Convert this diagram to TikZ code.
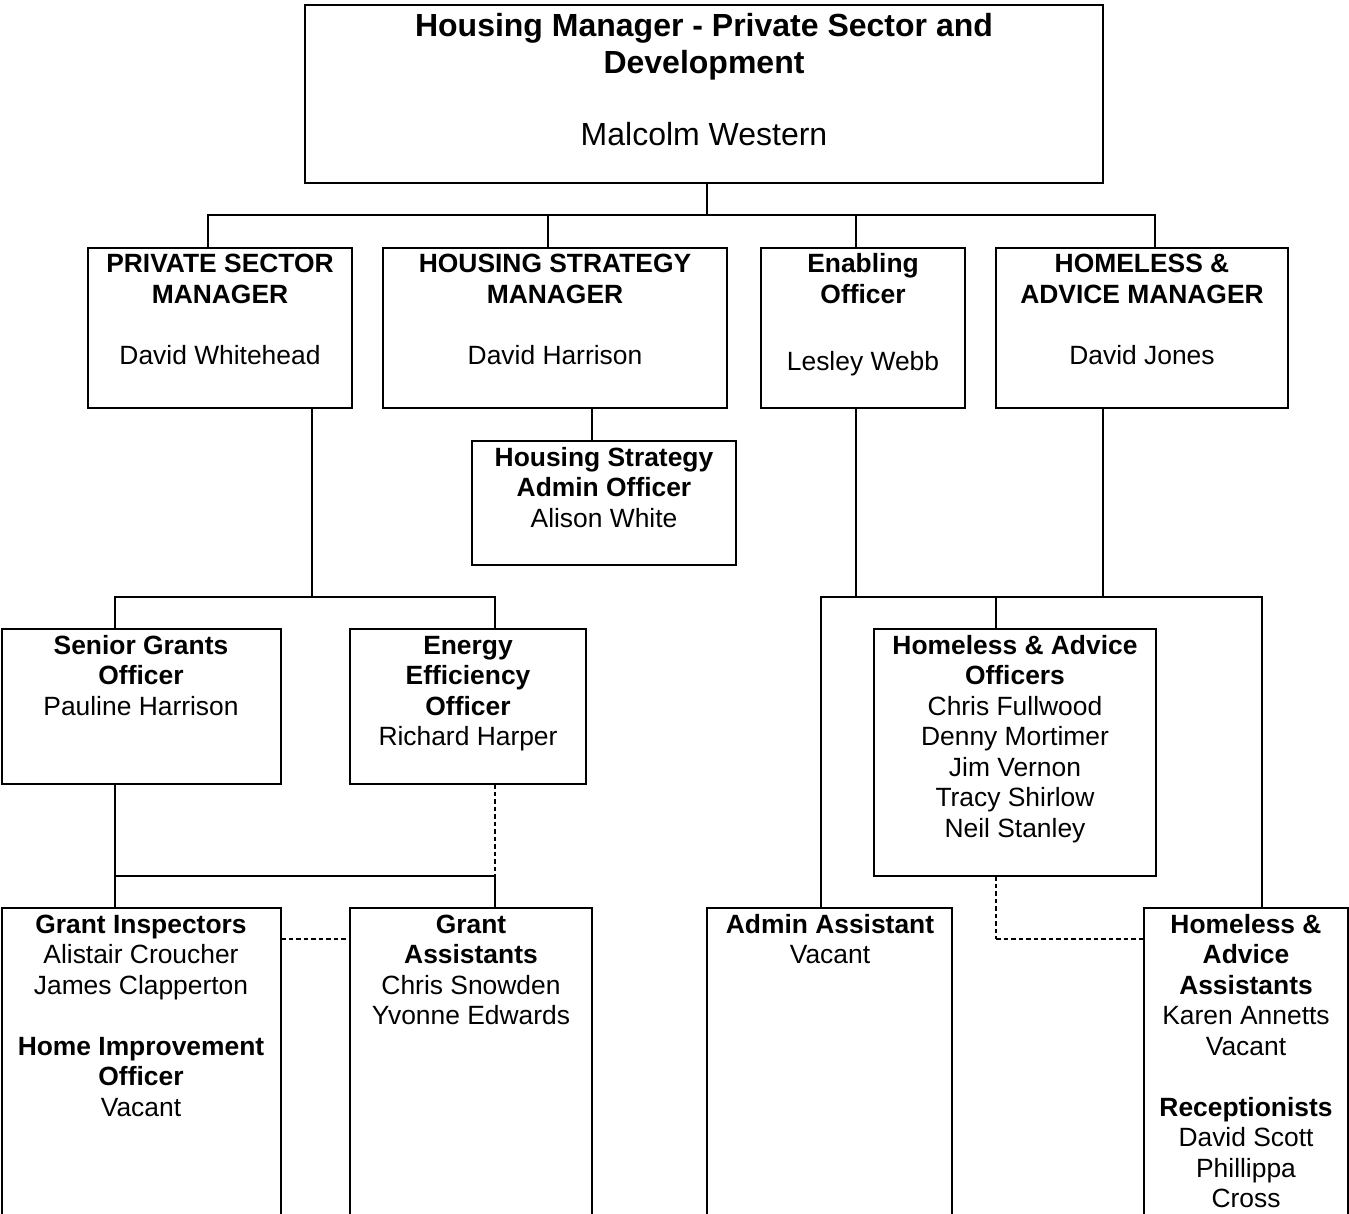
\documentclass[tikz,border=0pt]{standalone}
\usepackage{fontspec}
\setmainfont{Liberation Sans}
\newcommand\bodyfont{\fontsize{26.4pt}{30.5pt}\selectfont}
\newcommand\headfont{\fontsize{32pt}{37pt}\selectfont}
% centred, top-aligned block of lines; its baseline is the first line's
\newcommand\boxtext[1]{\parbox[t]{420pt}{\centering\bodyfont #1}}
\begin{document}
\begin{tikzpicture}[x=1pt,y=-1pt,
  post/.style={draw, line width=2pt, rectangle, inner sep=0pt, outer sep=0pt, anchor=north west},
  txt/.style={inner sep=0pt, anchor=base},
  conn/.style={line width=1.8pt},
  dotconn/.style={line width=2.2pt, dash pattern=on 4.5pt off 3pt},
  dotvert/.style={line width=1.4pt, dash pattern=on 4.5pt off 3pt}]
\path[use as bounding box, clip] (0,0) rectangle (1349,1214);
\fill[white] (0,0) rectangle (1349,1214);

% ---- boxes ----
\node[post, minimum width=798pt, minimum height=178pt] (top) at (305,5) {};
\node[post, minimum width=264pt, minimum height=160pt] (psm) at (88,248) {};
\node[post, minimum width=344pt, minimum height=160pt] (hsm) at (383,248) {};
\node[post, minimum width=204pt, minimum height=160pt] (enab) at (761,248) {};
\node[post, minimum width=292pt, minimum height=160pt] (ham) at (996,248) {};
\node[post, minimum width=264pt, minimum height=124pt] (hsao) at (472,441) {};
\node[post, minimum width=279.5pt, minimum height=155pt] (sgo) at (1.5,629) {};
\node[post, minimum width=236pt, minimum height=155pt] (eeo) at (350,629) {};
\node[post, minimum width=282pt, minimum height=247pt] (hao) at (874,629) {};
\node[post, minimum width=279.5pt, minimum height=340pt] (gi) at (1.5,908) {};
\node[post, minimum width=242pt, minimum height=340pt] (ga) at (350,908) {};
\node[post, minimum width=245pt, minimum height=340pt] (aa) at (707,908) {};
\node[post, minimum width=203.5pt, minimum height=340pt] (haa) at (1144,908) {};

% ---- texts ----
\node[txt] (topT) at (704,37) {\parbox[t]{760pt}{\centering\headfont\bfseries
  Housing Manager - Private Sector and\\Development\\[35pt]\mdseries Malcolm Western}};
\node[txt] (psmT) at (220,273) {\boxtext{\textbf{PRIVATE SECTOR}\\\textbf{MANAGER}\\[30.5pt]David Whitehead}};
\node[txt] (hsmT) at (555,273) {\boxtext{\textbf{HOUSING STRATEGY}\\\textbf{MANAGER}\\[30.5pt]David Harrison}};
\node[txt] (enabT) at (863,273) {\boxtext{\textbf{Enabling}\\\textbf{Officer}\\[37pt]Lesley Webb}};
\node[txt] (hamT) at (1142,273) {\boxtext{\textbf{HOMELESS \&}\\\textbf{ADVICE MANAGER}\\[30.5pt]David Jones}};
\node[txt] (hsaoT) at (604,466) {\boxtext{\textbf{Housing Strategy}\\\textbf{Admin Officer}\\Alison White}};
\node[txt] (sgoT) at (141,654) {\boxtext{\textbf{Senior Grants}\\\textbf{Officer}\\Pauline Harrison}};
\node[txt] (eeoT) at (468,654) {\boxtext{\textbf{Energy}\\\textbf{Efficiency}\\\textbf{Officer}\\Richard Harper}};
\node[txt] (haoT) at (1015,654) {\boxtext{\textbf{Homeless \& Advice}\\\textbf{Officers}\\Chris Fullwood\\Denny Mortimer\\Jim Vernon\\Tracy Shirlow\\Neil Stanley}};
\node[txt] (giT) at (141,933) {\boxtext{\textbf{Grant Inspectors}\\Alistair Croucher\\James Clapperton\\[30.5pt]\textbf{Home Improvement}\\\textbf{Officer}\\Vacant}};
\node[txt] (gaT) at (471,933) {\boxtext{\textbf{Grant}\\\textbf{Assistants}\\Chris Snowden\\Yvonne Edwards}};
\node[txt] (aaT) at (830,933) {\boxtext{\textbf{Admin Assistant}\\Vacant}};
\node[txt] (haaT) at (1246,933) {\boxtext{\textbf{Homeless \&}\\\textbf{Advice}\\\textbf{Assistants}\\Karen Annetts\\Vacant\\[30.5pt]\textbf{Receptionists}\\David Scott\\Phillippa\\Cross}};

% ---- junction points ----
\coordinate (t0) at (707,215);
\coordinate (d1) at (208,215);
\coordinate (d2) at (548,215);
\coordinate (d3) at (856,215);
\coordinate (d4) at (1155,215);
\coordinate (h1) at (592,425);
\coordinate (p0) at (312,597);
\coordinate (p1) at (115,597);
\coordinate (p2) at (495,597);
\coordinate (g1) at (115,876);
\coordinate (g2) at (495,876);
\coordinate (dg) at (300,939);
\coordinate (r0) at (856,597);
\coordinate (r1) at (821,597);
\coordinate (r2) at (996,597);
\coordinate (r3) at (1103,597);
\coordinate (r4) at (1262,597);
\coordinate (dh) at (996,939);

% ---- connectors ----
\draw[conn] (top.south -| t0) -- (t0);
\draw[conn] (psm.north -| d1) -- (d1) -- (d4) -- (ham.north -| d4);
\draw[conn] (hsm.north -| d2) -- (d2);
\draw[conn] (enab.north -| d3) -- (d3);
\draw[conn] (hsm.south -| h1) -- (hsao.north -| h1);

\draw[conn] (psm.south -| p0) -- (p0);
\draw[conn] (sgo.north -| p1) -- (p1) -- (p2) -- (eeo.north -| p2);
\draw[conn] (sgo.south -| g1) -- (gi.north -| g1);
\draw[conn] (g1) -- (g2) -- (ga.north -| g2);
\draw[dotvert] (eeo.south -| g2) -- (g2);
\draw[dotconn] (gi.east |- dg) -- (ga.west |- dg);

\draw[conn] (enab.south -| r0) -- (r0);
\draw[conn] (ham.south -| r3) -- (r3);
\draw[conn] (aa.north -| r1) -- (r1) -- (r4) -- (haa.north -| r4);
\draw[conn] (r2) -- (hao.north -| r2);
\draw[dotvert] (hao.south -| dh) -- (dh);
\draw[dotconn] (dh) -- (haa.west |- dh);
\end{tikzpicture}
\end{document}
